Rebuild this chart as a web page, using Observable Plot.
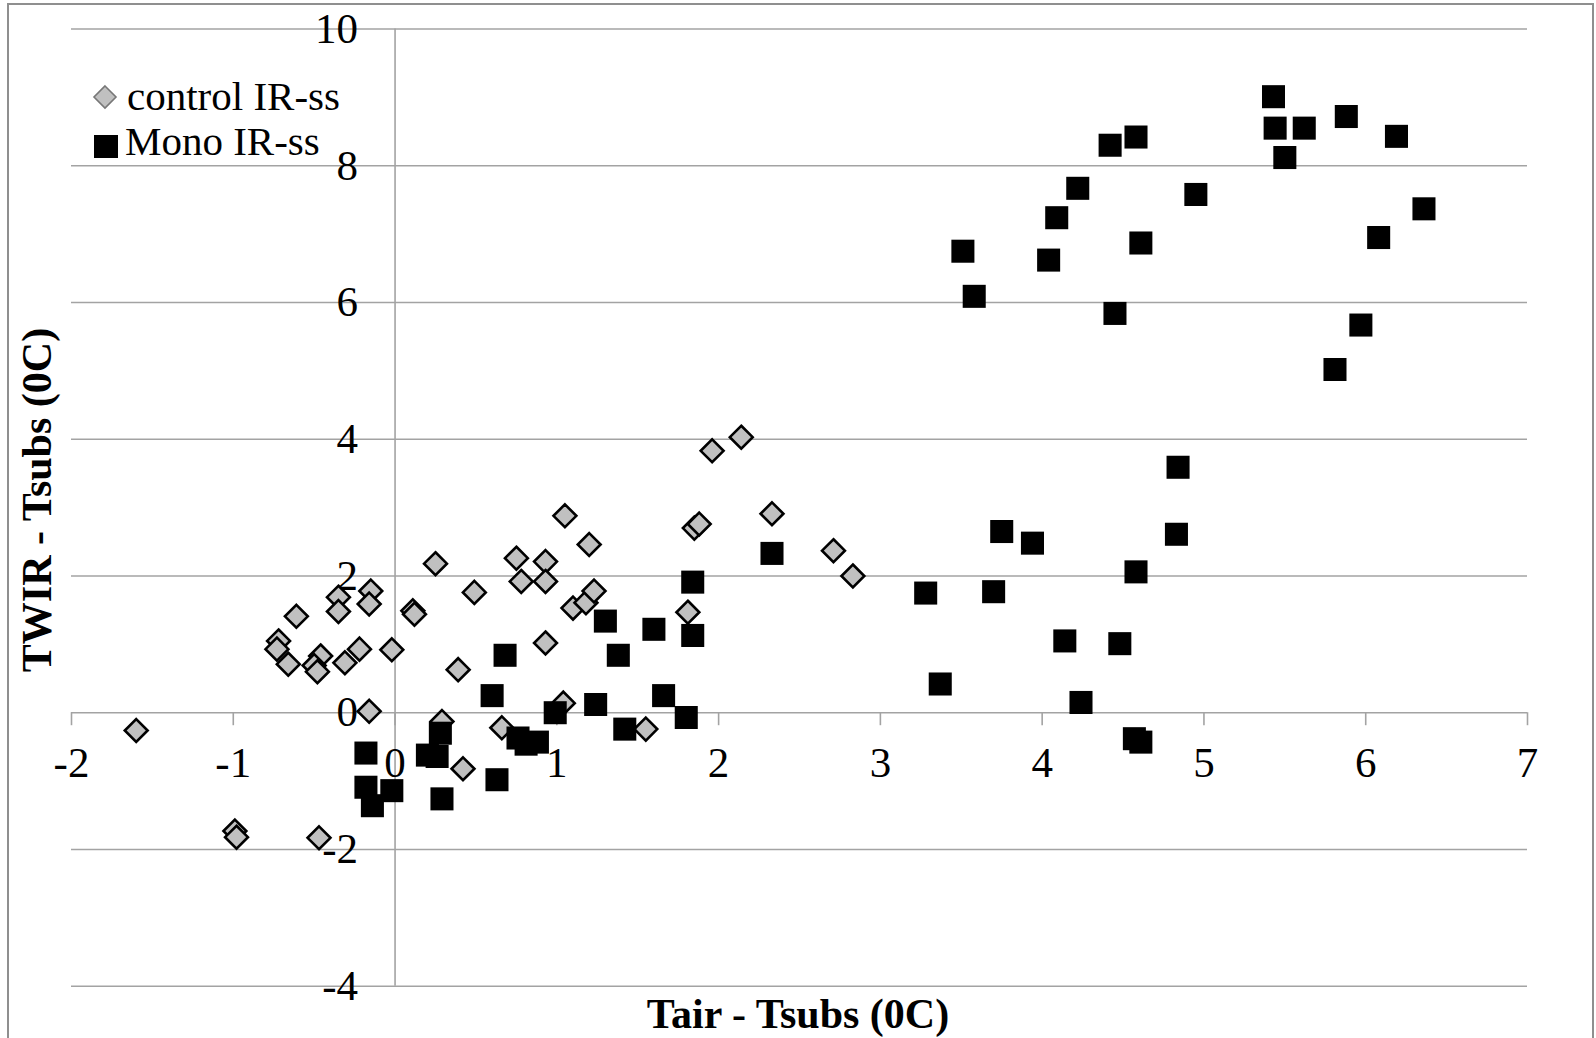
<!DOCTYPE html>
<html>
<head>
<meta charset="utf-8">
<script src="https://cdn.jsdelivr.net/npm/d3@7"></script>
<script src="https://cdn.jsdelivr.net/npm/@observablehq/plot@0.6"></script>
<style>
html, body { margin: 0; padding: 0; background: #fff; overflow: hidden; }
#wrap { position: relative; width: 1596px; height: 1038px; font-family: "Liberation Serif", "Times New Roman", serif; color: #000; }
#border { position: absolute; left: 7px; top: 3px; width: 1587px; height: 1080px; border: 2px solid #8f8f8f; box-sizing: border-box; pointer-events: none; }
.lbl { position: absolute; white-space: nowrap; }
.legtext { font-size: 41px; line-height: 41px; }
.title { font-weight: bold; font-size: 42px; line-height: 42px; text-align: center; }
</style>
</head>
<body>
<div id="wrap">
  <div id="border"></div>
</div>
<script>
// ---- data ----
const seriesNames = ["control IR-ss", "Mono IR-ss"];
const xTitle = "Tair - Tsubs (0C)";
const yTitle = "TWIR - Tsubs (0C)";
const xTicks = [-2, -1, 0, 1, 2, 3, 4, 5, 6, 7];
const yTicks = [-4, -2, 0, 2, 4, 6, 8, 10];

const controlX = [-1.60, -0.99, -0.98, -0.47, -0.72, -0.73, -0.66, -0.61, -0.46, -0.50, -0.48, -0.31, -0.22, -0.02,
  -0.35, -0.35, -0.15, -0.16, -0.16, 0.11, 0.12, 0.25, 0.29, 0.42, 0.39, 0.49, 0.66, 0.75, 0.78, 0.93, 0.93, 0.93,
  1.05, 1.04, 1.10, 1.18, 1.20, 1.23, 1.55, 1.81, 1.85, 1.88, 1.96, 2.14, 2.33, 2.71, 2.83];
const controlY = [-0.26, -1.73, -1.82, -1.83, 1.05, 0.93, 0.71, 1.41, 0.83, 0.69, 0.60, 0.73, 0.93, 0.92,
  1.69, 1.48, 1.78, 1.59, 0.02, 1.49, 1.44, 2.18, -0.13, -0.82, 0.63, 1.76, -0.22, 2.26, 1.92, 2.21, 1.92, 1.02,
  2.88, 0.14, 1.53, 1.61, 2.46, 1.78, -0.24, 1.47, 2.70, 2.76, 3.83, 4.03, 2.91, 2.37, 2.00];

const monoX = [5.43, 5.44, 5.62, 5.50, 5.88, 6.19, 4.58, 4.42, 4.22, 4.09, 4.95, 6.36, 4.61, 3.51, 4.04, 3.58, 4.45, 6.08, 5.97, 5.81,
  4.84, 4.83, 3.75, 3.94, 4.58, 3.28, 3.70, 4.14, 4.48, 3.37, 4.24, 4.57, 4.61,
  2.33, 1.84, 1.30, 1.60, 1.84, 1.38, 0.68, 0.60, 1.66, 1.24, 0.99, 1.80, 1.42, 0.76, 0.81, 0.88, 0.63, 0.29, 0.28, 0.20, 0.26,
  -0.18, -0.18, -0.02, -0.14];
const monoY = [9.01, 8.55, 8.55, 8.12, 8.72, 8.43, 8.42, 8.30, 7.67, 7.24, 7.58, 7.37, 6.87, 6.75, 6.62, 6.09, 5.84, 6.95, 5.67, 5.02,
  3.59, 2.61, 2.65, 2.48, 2.06, 1.75, 1.77, 1.05, 1.01, 0.42, 0.15, -0.38, -0.43,
  2.33, 1.91, 1.34, 1.22, 1.13, 0.84, 0.84, 0.25, 0.25, 0.12, 0.00, -0.07, -0.24, -0.37, -0.46, -0.43, -0.98, -1.26, -0.30, -0.62, -0.64,
  -0.59, -1.09, -1.14, -1.36];

// ---- build tables ----
const control = controlX.map((x, i) => ({x, y: controlY[i], s: seriesNames[0]}));
const mono = monoX.map((x, i) => ({x, y: monoY[i], s: seriesNames[1]}));

const gridColor = "#a3a3a3";
const chart = Plot.plot({
  width: 1596,
  height: 1038,
  marginLeft: 71,
  marginRight: 69,
  marginTop: 28.5,
  marginBottom: 52.3,
  x: {domain: [-2, 7], axis: null},
  y: {domain: [-4, 10], axis: null},
  style: {fontFamily: "Liberation Serif, Times New Roman, serif", background: "transparent", overflow: "visible"},
  marks: [
    Plot.ruleY(yTicks, {y: d => d, stroke: gridColor, strokeWidth: 1.6}),
    Plot.ruleX([0], {x: d => d, stroke: gridColor, strokeWidth: 1.6}),
    Plot.ruleX(xTicks, {x: d => d, y1: 0, y2: 0, insetBottom: -13, stroke: gridColor, strokeWidth: 1.6}),
    Plot.text(yTicks, {x: 0, y: d => d, text: d => String(d), textAnchor: "end", dx: -37, fontSize: 43, fill: "#000"}),
    Plot.text(xTicks, {x: d => d, y: 0, text: d => String(d), dy: 51, fontSize: 43, fill: "#000"}),
    Plot.dot(control, {x: "x", y: "y", symbol: "diamond2", r: 10.3, fill: "#c0c0c0", stroke: "#000", strokeWidth: 2.6}),
    Plot.dot(mono, {x: "x", y: "y", symbol: "square", r: 13, fill: "#000", stroke: "none"})
  ]
});
chart.style.position = "absolute";
chart.style.left = "0px";
chart.style.top = "0px";
const wrap = document.getElementById("wrap");
wrap.insertBefore(chart, wrap.firstChild);

// ---- legend (HTML overlay) ----
function addDiv(cls, text, styles) {
  const d = document.createElement("div");
  d.className = cls;
  d.textContent = text;
  Object.assign(d.style, styles);
  wrap.appendChild(d);
  return d;
}
const legSvg = document.createElementNS("http://www.w3.org/2000/svg", "svg");
legSvg.setAttribute("width", "40");
legSvg.setAttribute("height", "80");
Object.assign(legSvg.style, {position: "absolute", left: "85px", top: "78px"});
legSvg.innerHTML =
  '<path d="M20,8 L31,19 L20,30 L9,19 Z" fill="#c0c0c0" stroke="#777" stroke-width="1.6"/>' +
  '<rect x="9" y="57" width="24" height="23" fill="#000"/>';
wrap.appendChild(legSvg);
addDiv("lbl legtext", seriesNames[0], {left: "127px", top: "75.5px"});
addDiv("lbl legtext", seriesNames[1], {left: "125px", top: "121px"});

// ---- axis titles ----
addDiv("lbl title", xTitle, {left: "398px", width: "800px", top: "993px"});
addDiv("lbl title", yTitle, {left: "-263px", width: "600px", top: "479px", height: "42px", transform: "rotate(-90deg)", transformOrigin: "50% 50%"});
</script>
</body>
</html>
